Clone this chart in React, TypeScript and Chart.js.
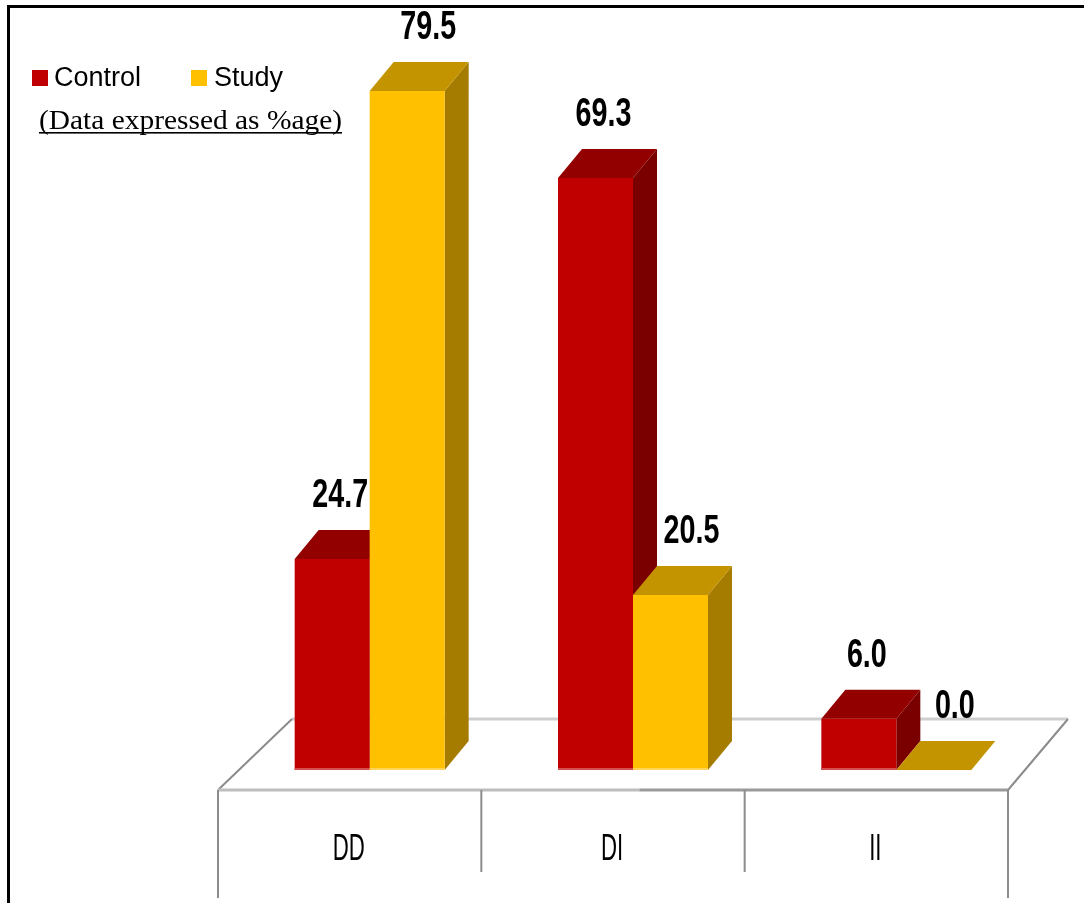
import React, { useEffect, useRef } from "react";
import { Chart, registerables } from "chart.js";

Chart.register(...registerables);

// ---- data ----
const categories = ["DD", "DI", "II"];
const seriesNames = ["Control", "Study"];
const controlValues = [24.7, 69.3, 6.0];
const studyValues = [79.5, 20.5, 0.0];
const subtitle = "(Data expressed as %age)";

// ---- style ----
const frontColors = ["#C00000", "#FFC000"];
const topColors = ["#930000", "#C49400"];
const sideColors = ["#7A0000", "#A67C00"];
const bottomLight = ["#D45050", "#FFD458"];
const labelDx = [8, 21];
const DX = 24;
const DY = 29;

function scaledText(ctx: CanvasRenderingContext2D, text: string, x: number, y: number, font: string, sx: number, align: CanvasTextAlign) {
  ctx.save();
  ctx.font = font;
  ctx.textAlign = align;
  ctx.textBaseline = "alphabetic";
  ctx.fillStyle = "#000";
  ctx.translate(x, y);
  ctx.scale(sx, 1);
  ctx.fillText(text, 0, 0);
  ctx.restore();
}

const bar3d = {
  id: "bar3d",
  beforeDraw(chart: any) {
    const ctx: CanvasRenderingContext2D = chart.ctx;
    ctx.save();
    ctx.fillStyle = "#fff";
    ctx.fillRect(0, 0, chart.width, chart.height);
    // frame
    ctx.fillStyle = "#000";
    ctx.fillRect(7, 5, chart.width - 7, 3);
    ctx.fillRect(7, 5, 3, chart.height - 5);
    ctx.restore();

    // legend
    const ds = chart.data.datasets;
    const legendX = [32, 191];
    const legendTextX = [54, 214];
    ds.forEach((d: any, i: number) => {
      ctx.save();
      ctx.fillStyle = frontColors[i];
      ctx.fillRect(legendX[i], 70, 16, 16);
      ctx.restore();
      scaledText(ctx, d.label, legendTextX[i], 86, "27px 'Liberation Sans'", 1.0, "left");
    });
    // subtitle
    ctx.save();
    ctx.font = "28px 'Liberation Serif'";
    const w = ctx.measureText(subtitle).width;
    const sx = 303 / w;
    ctx.restore();
    scaledText(ctx, subtitle, 39, 129, "28px 'Liberation Serif'", sx, "left");
    ctx.save();
    ctx.fillStyle = "#000";
    ctx.fillRect(39, 132, 303, 1.6);
    ctx.restore();

    // floor
    const { left, right } = chart.chartArea;
    const y0 = chart.scales.y.getPixelForValue(0);
    const fl = left - 20, fr = right - 20, fy = y0 + 20;
    const bl = left + 54, br = right + 40, by = y0 - 51;
    ctx.save();
    ctx.lineCap = "butt";
    ctx.strokeStyle = "#CFCFCF";
    ctx.lineWidth = 3;
    ctx.beginPath();
    ctx.moveTo(bl, by);
    ctx.lineTo(br, by);
    ctx.stroke();
    ctx.strokeStyle = "#8C8C8C";
    ctx.lineWidth = 2;
    ctx.beginPath();
    ctx.moveTo(fl, fy);
    ctx.lineTo(bl, by);
    ctx.moveTo(fr, fy);
    ctx.lineTo(br, by);
    ctx.stroke();
    // front edge
    const catW = (right - left) / categories.length;
    ctx.lineWidth = 3;
    ctx.strokeStyle = "#BDBDBD";
    ctx.beginPath();
    ctx.moveTo(fl, fy);
    ctx.lineTo(fl + catW * 1.6, fy);
    ctx.stroke();
    ctx.strokeStyle = "#9A9A9A";
    ctx.beginPath();
    ctx.moveTo(fl + catW * 1.6, fy);
    ctx.lineTo(fr, fy);
    ctx.stroke();
    // verticals
    ctx.strokeStyle = "#8C8C8C";
    ctx.lineWidth = 2;
    ctx.beginPath();
    ctx.moveTo(fl, fy);
    ctx.lineTo(fl, fy + 108);
    ctx.moveTo(fr, fy);
    ctx.lineTo(fr, fy + 108);
    for (let k = 1; k < categories.length; k++) {
      const x = fl + k * catW;
      ctx.moveTo(x, fy);
      ctx.lineTo(x, fy + 82);
    }
    ctx.stroke();
    ctx.restore();
    // category labels
    const xs = chart.scales.x;
    categories.forEach((c, i) => {
      const cx = xs.getPixelForValue(i) - 21;
      scaledText(ctx, c, cx, fy + 70, "37px 'Liberation Sans'", 0.6, "center");
    });
  },
  beforeDatasetsDraw(chart: any) {
    const ctx: CanvasRenderingContext2D = chart.ctx;
    const n = categories.length;
    const nd = chart.data.datasets.length;
    for (let i = 0; i < n; i++) {
      for (let d = 0; d < nd; d++) {
        const el = chart.getDatasetMeta(d).data[i];
        const { x, y, width, base } = el.getProps(["x", "y", "width", "base"], true);
        const l = x - width / 2;
        const r = x + width / 2;
        ctx.save();
        ctx.fillStyle = sideColors[d];
        ctx.beginPath();
        ctx.moveTo(r, y);
        ctx.lineTo(r + DX, y - DY);
        ctx.lineTo(r + DX, base - DY);
        ctx.lineTo(r, base);
        ctx.closePath();
        ctx.fill();
        ctx.fillStyle = topColors[d];
        ctx.beginPath();
        ctx.moveTo(l, y);
        ctx.lineTo(l + DX, y - DY);
        ctx.lineTo(r + DX, y - DY);
        ctx.lineTo(r, y);
        ctx.closePath();
        ctx.fill();
        ctx.restore();
      }
    }
  },
  afterDatasetsDraw(chart: any) {
    const ctx: CanvasRenderingContext2D = chart.ctx;
    const nd = chart.data.datasets.length;
    for (let d = 0; d < nd; d++) {
      const meta = chart.getDatasetMeta(d);
      meta.data.forEach((el: any, i: number) => {
        const { x, y, width, base } = el.getProps(["x", "y", "width", "base"], true);
        const v = chart.data.datasets[d].data[i] as number;
        if (base - y > 3) {
          ctx.save();
          ctx.fillStyle = bottomLight[d];
          ctx.fillRect(x - width / 2, base - 2, width, 2);
          ctx.restore();
        }
        scaledText(ctx, v.toFixed(1), x + labelDx[d], y - DY - 23, "bold 41px 'Liberation Sans'", 0.7, "center");
      });
    }
  },
};

export default function App() {
  const ref = useRef<HTMLCanvasElement | null>(null);
  useEffect(() => {
    if (!ref.current) return;
    const chart = new Chart(ref.current, {
      type: "bar",
      data: {
        labels: categories,
        datasets: [
          { label: seriesNames[0], data: controlValues, backgroundColor: frontColors[0], borderWidth: 0 },
          { label: seriesNames[1], data: studyValues, backgroundColor: frontColors[1], borderWidth: 0 },
        ],
      },
      options: {
        responsive: false,
        animation: false,
        devicePixelRatio: 1,
        layout: { padding: { left: 238, right: 56, top: 44, bottom: 133 } },
        datasets: { bar: { categoryPercentage: 0.5696, barPercentage: 1.0 } },
        scales: {
          x: { display: false, offset: true },
          y: { display: false, min: 0, max: 85 },
        },
        plugins: { legend: { display: false }, tooltip: { enabled: false }, title: { display: false } },
      },
      plugins: [bar3d],
    });
    return () => chart.destroy();
  }, []);
  return (
    <div style={{ position: "fixed", left: 0, top: 0, width: 1084, height: 903, background: "#fff" }}>
      <canvas ref={ref} width={1084} height={903} style={{ display: "block", width: 1084, height: 903 }} />
    </div>
  );
}
